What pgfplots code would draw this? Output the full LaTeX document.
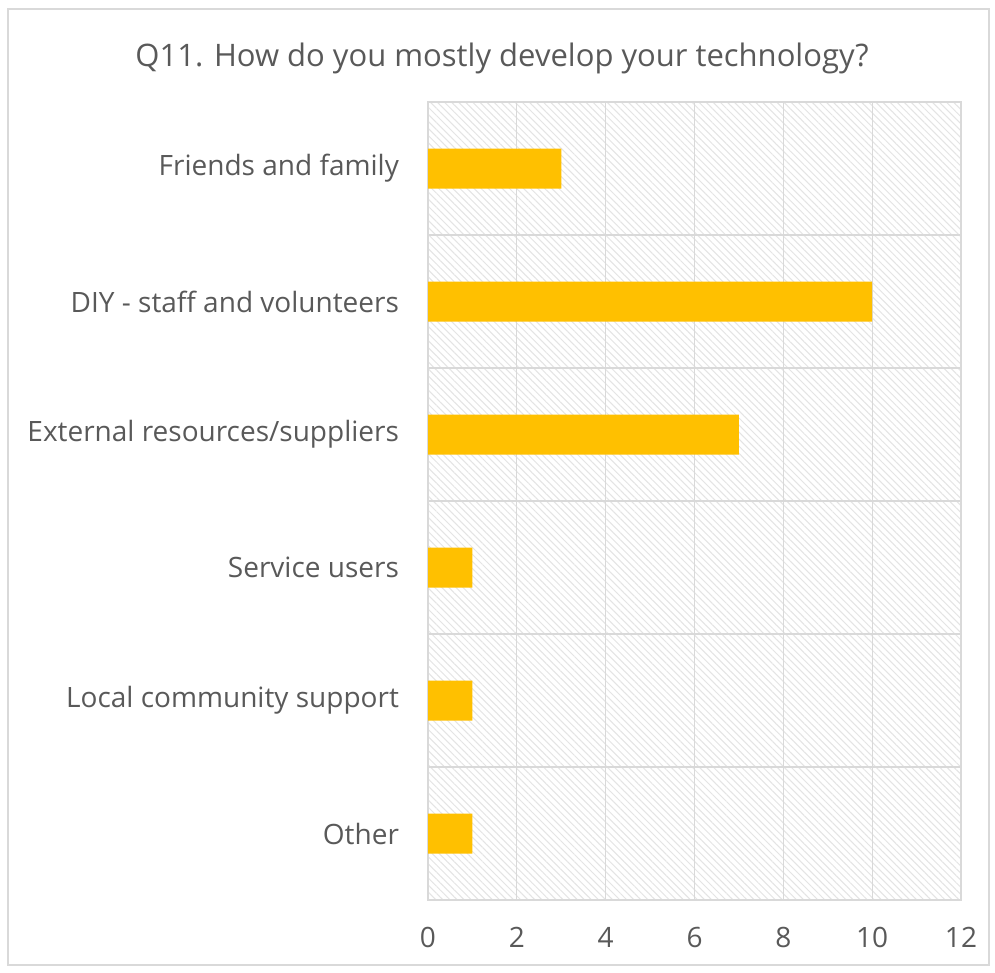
\documentclass[border=0pt]{standalone}
\usepackage{pgfplots}
\pgfplotsset{compat=1.18}
\usepackage{fontspec}
\setmainfont{Open Sans}
\usetikzlibrary{patterns.meta}
\definecolor{barc}{HTML}{FFC000}
\definecolor{txt}{HTML}{595959}
\definecolor{gridc}{HTML}{D9D9D9}
\definecolor{hatch}{HTML}{E4E4E4}
\begin{document}
\begin{tikzpicture}[x=0.5pt,y=0.5pt]
\path[use as bounding box] (0,0) rectangle (995,973);
\draw[gridc, line width=0.8pt] (8,8) rectangle (989,964);
\node[txt, font=\fontsize{15.5}{18}\selectfont] at (502,915) {Q11. How do you mostly develop your technology?};
\begin{axis}[
  at={(214pt,36.5pt)}, anchor=south west,
  scale only axis, width=266.5pt, height=399pt,
  xmin=0, xmax=12, xtick={0,2,...,12},
  ymin=-0.5, ymax=5.5, y dir=reverse,
  ytick={0,...,5},
  yticklabels={Friends and family, DIY - staff and volunteers, External resources/suppliers, Service users, Local community support, Other},
  minor ytick={0.5,1.5,2.5,3.5,4.5},
  yminorgrids, xmajorgrids,
  grid style={gridc, line width=0.6pt},
  minor grid style={gridc, line width=0.6pt},
  axis line style={gridc, line width=0.6pt},
  major tick length=0pt, minor tick length=0pt,
  tick label style={txt, font=\fontsize{14}{16}\selectfont},
  /pgf/number format/assume math mode=true,
  xticklabel style={yshift=-10pt},
  yticklabel style={xshift=-11pt},
  axis background/.style={fill=white, postaction={pattern={Lines[angle=-45,distance=2.5pt,line width=0.5pt]}, pattern color=hatch}},
]
\addplot[xbar, fill=barc, draw=none, bar width=20pt] coordinates {(3,0) (10,1) (7,2) (1,3) (1,4) (1,5)};
\end{axis}
\end{tikzpicture}
\end{document}
